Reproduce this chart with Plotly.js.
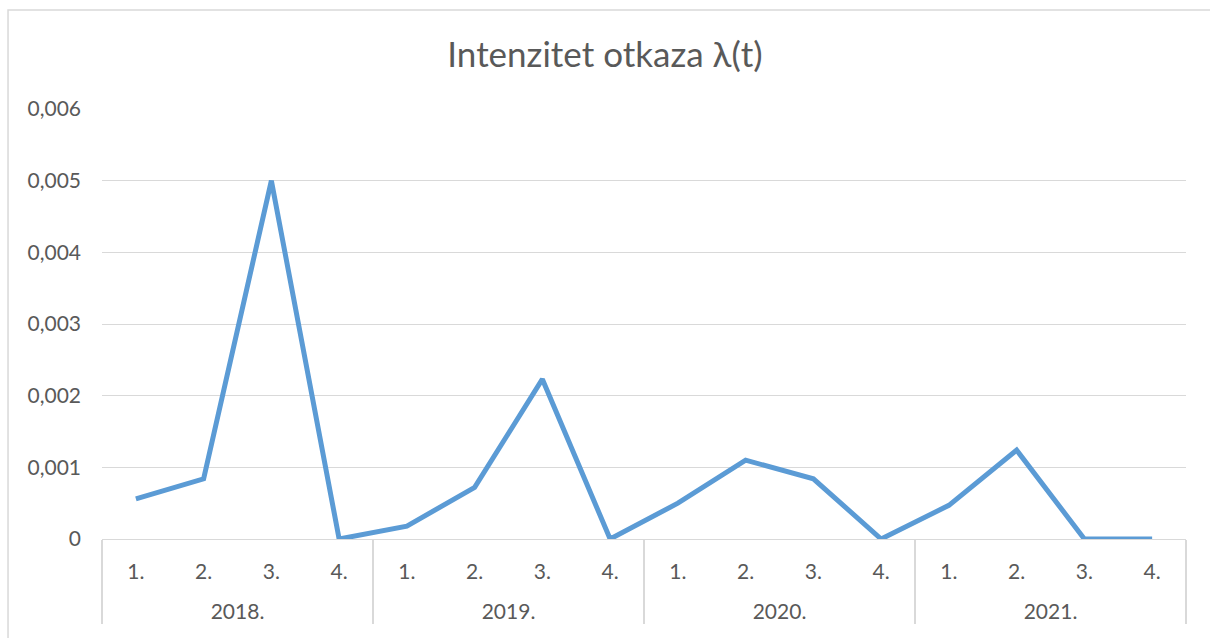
<!DOCTYPE html>
<html>
<head>
<meta charset="utf-8">
<script src="https://cdn.plot.ly/plotly-3.0.1.min.js"></script>
<style>html,body{margin:0;padding:0;background:#fff;}#chart{width:1210px;height:638px;}</style>
</head>
<body>
<div id="chart"></div>
<script>
const years = ["2018.", "2018.", "2018.", "2018.", "2019.", "2019.", "2019.", "2019.", "2020.", "2020.", "2020.", "2020.", "2021.", "2021.", "2021.", "2021."];
const quarters = ["1.", "2.", "3.", "4.", "1.", "2.", "3.", "4.", "1.", "2.", "3.", "4.", "1.", "2.", "3.", "4."];
const intensity = [0.00056, 0.00084, 0.005, 0, 0.00018, 0.00072, 0.00223, 0, 0.0005, 0.0011, 0.00084, 0, 0.00047, 0.00124, 0, 0];
const titleText = "Intenzitet otkaza λ(t)";

// quarter labels get an empty second line so the year row sits lower, as in the original
const quarterLabels = quarters.map(q => q + "<br> ");

const font = "Lato, 'Open Sans', sans-serif";
const trace = {
  type: "scatter",
  mode: "lines",
  x: [years, quarterLabels],
  y: intensity,
  line: {color: "#5b9bd5", width: 5},
  hoverinfo: "none"
};
const layout = {
  width: 1210, height: 638,
  margin: {l: 102, r: 24, t: 109, b: 99},
  paper_bgcolor: "#ffffff",
  plot_bgcolor: "#ffffff",
  separators: ", ",
  showlegend: false,
  font: {family: font, color: "#595959", size: 21},
  title: {text: titleText, x: 0.5, xanchor: "center", y: 0.914, yanchor: "middle",
          font: {family: font, size: 35, color: "#595959"}},
  xaxis: {
    type: "multicategory",
    range: [-0.5, 15.5],
    showgrid: false,
    showline: true, linecolor: "#d9d9d9", linewidth: 1,
    ticks: "outside", ticklen: 32, tickcolor: "rgba(0,0,0,0)",
    ticklabelstandoff: 14,
    showdividers: true, dividercolor: "#d9d9d9", dividerwidth: 1.5,
    tickfont: {family: font, size: 21, color: "#595959"},
    zeroline: false
  },
  yaxis: {
    range: [0, 0.006],
    tickvals: [0, 0.001, 0.002, 0.003, 0.004, 0.005, 0.006],
    tickformat: ".3~f",
    showgrid: true, gridcolor: "#d9d9d9", gridwidth: 1,
    zeroline: false, showline: false, ticks: "",
    ticklabelstandoff: 20,
    tickfont: {family: font, size: 21, color: "#595959"}
  },
  shapes: [
    {type: "rect", xref: "paper", yref: "paper", x0: -0.0867, x1: 1.03, y0: -0.26, y1: 1.2302,
     line: {color: "#d9d9d9", width: 1.5}, fillcolor: "rgba(0,0,0,0)", layer: "below"}
  ]
};
Plotly.newPlot("chart", [trace], layout, {displayModeBar: false, staticPlot: true});
</script>
</body>
</html>
